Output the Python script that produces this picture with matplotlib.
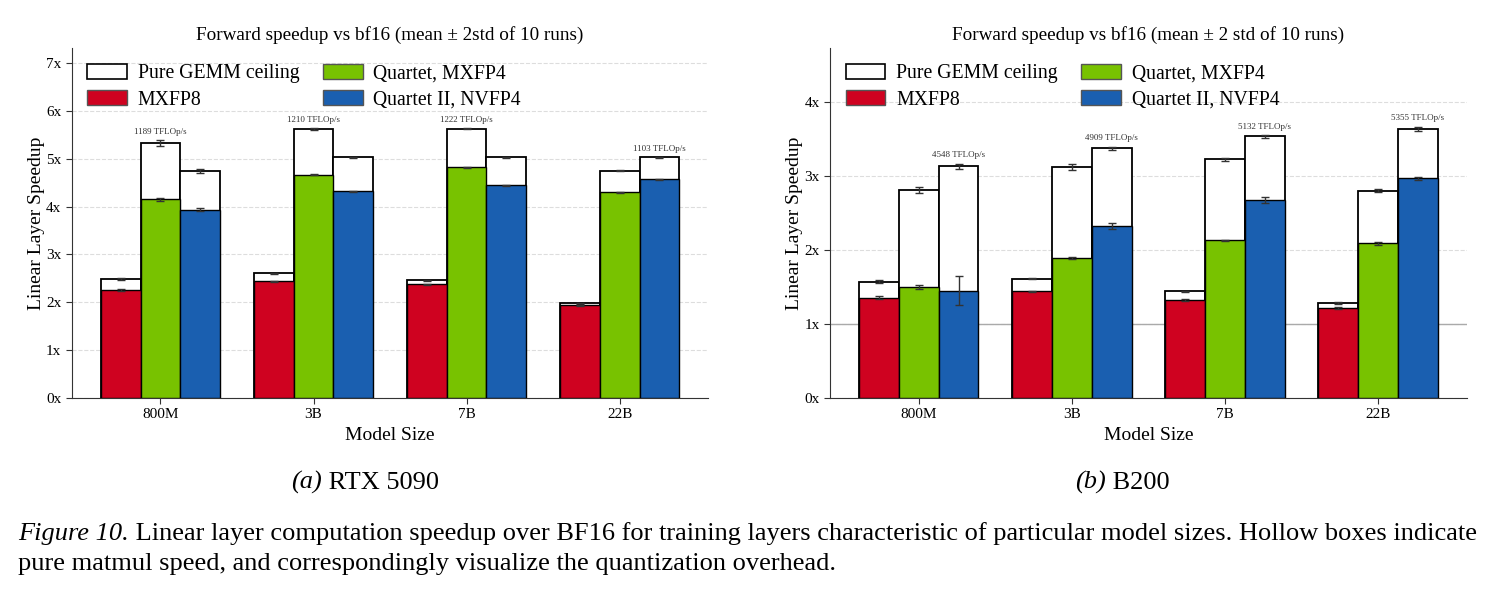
import numpy as np
import matplotlib
matplotlib.use("Agg")
import matplotlib.pyplot as plt

plt.rcParams['font.family'] = ['Liberation Serif', 'DejaVu Serif']

sizes = ['800M', '3B', '7B', '22B']
methods = ['MXFP8', 'Quartet, MXFP4', 'Quartet II, NVFP4']
colors = ['#cf0220', '#78c200', '#1a5fb0']

# RTX 5090: rows = method, cols = model size
rtx_ceil = [[2.49, 2.60, 2.46, 1.98],
            [5.34, 5.62, 5.63, 4.75],
            [4.74, 5.03, 5.03, 5.03]]
rtx_ceil_err = [[0.02, 0.01, 0.01, 0.01],
                [0.06, 0.02, 0.01, 0.01],
                [0.04, 0.01, 0.01, 0.01]]
rtx_act = [[2.26, 2.44, 2.37, 1.93],
           [4.15, 4.67, 4.83, 4.30],
           [3.94, 4.32, 4.45, 4.57]]
rtx_act_err = [[0.02, 0.01, 0.01, 0.01],
               [0.04, 0.01, 0.01, 0.01],
               [0.04, 0.01, 0.01, 0.01]]
rtx_tflops = [1189, 1210, 1222, 1103]

# B200
b200_ceil = [[1.57, 1.61, 1.44, 1.28],
             [2.81, 3.12, 3.23, 2.80],
             [3.13, 3.38, 3.54, 3.64]]
b200_ceil_err = [[0.02, 0.01, 0.01, 0.01],
                 [0.04, 0.04, 0.02, 0.02],
                 [0.04, 0.02, 0.02, 0.03]]
b200_act = [[1.35, 1.44, 1.32, 1.21],
            [1.50, 1.89, 2.13, 2.09],
            [1.45, 2.32, 2.68, 2.97]]
b200_act_err = [[0.02, 0.01, 0.01, 0.01],
                [0.03, 0.02, 0.01, 0.02],
                [0.20, 0.04, 0.04, 0.02]]
b200_tflops = [4548, 4909, 5132, 5355]


def draw(ax, ceil, ceil_err, act, act_err, tflops, title, baseline=False):
    x = np.arange(len(sizes))
    w = 0.26
    ceil = np.array(ceil)
    ekw = dict(ecolor='#333333', elinewidth=1, capsize=3, capthick=1)
    for i in range(len(methods)):
        xs = x + (i - 1) * w
        ax.bar(xs, ceil[i], w, yerr=ceil_err[i], color='white', edgecolor='black',
               linewidth=1.3, zorder=2, error_kw=ekw)
        ax.bar(xs, act[i], w, yerr=act_err[i], color=colors[i], edgecolor='black',
               linewidth=1.0, zorder=3, error_kw=ekw)
    for j in range(len(sizes)):
        k = int(np.argmax(ceil[:, j]))
        ax.annotate(f'{tflops[j]} TFLOp/s', (x[j] + (k - 1) * w, ceil[k, j] + ceil_err[k][j]),
                    xytext=(0, 3), textcoords='offset points', ha='center', va='bottom',
                    fontsize=6.5, color='#333333')
    if baseline:
        ax.axhline(1, color='#aaaaaa', lw=1, zorder=1)
    ymax = ceil.max() * 1.3
    ax.set_ylim(0, ymax)
    ax.set_xlim(-0.58, 3.58)
    yt = np.arange(0, int(ymax) + 1)
    ax.set_yticks(yt)
    ax.set_yticklabels([f'{t}x' for t in yt], fontsize=11)
    ax.set_xticks(x)
    ax.set_xticklabels(sizes, fontsize=11)
    ax.yaxis.grid(True, linestyle='--', color='#dddddd', lw=0.8, zorder=0)
    ax.set_axisbelow(True)
    for s in ['top', 'right']:
        ax.spines[s].set_visible(False)
    for s in ['left', 'bottom']:
        ax.spines[s].set_color('#333333')
    ax.tick_params(colors='#333333', labelcolor='black', length=4)
    ax.set_title(title, fontsize=13.8, pad=6)
    ax.set_ylabel('Linear Layer Speedup', fontsize=14, labelpad=1)
    ax.set_xlabel('Model Size', fontsize=14, labelpad=4)

    handles = [plt.Rectangle((0, 0), 1, 1, facecolor='white', edgecolor='black', lw=1.2)]
    for c in colors:
        handles.append(plt.Rectangle((0, 0), 1, 1, facecolor=c, edgecolor='#555555', lw=1))
    labels = ['Pure GEMM ceiling'] + methods
    ax.legend(handles, labels, ncol=2, loc='upper left', frameon=False, fontsize=14.2,
              handlelength=2.0, handleheight=0.8, handletextpad=0.55,
              columnspacing=1.2, labelspacing=0.35, borderaxespad=0.4)


fig = plt.figure(figsize=(14.91, 5.92), dpi=100)
ax1 = fig.add_axes([0.0481, 0.3285, 0.427, 0.590])
ax2 = fig.add_axes([0.5567, 0.3285, 0.427, 0.590])

draw(ax1, rtx_ceil, rtx_ceil_err, rtx_act, rtx_act_err, rtx_tflops,
     'Forward speedup vs bf16 (mean ± 2std of 10 runs)')
draw(ax2, b200_ceil, b200_ceil_err, b200_act, b200_act_err, b200_tflops,
     'Forward speedup vs bf16 (mean ± 2 std of 10 runs)', baseline=True)

# sub captions
for sx, tag, name in [(291, '(a)', 'RTX 5090'), (1075, '(b)', 'B200')]:
    t = fig.text(sx / 1491, 1 - 482 / 592, tag, fontsize=19, style='italic',
                 va='center', ha='left')
    ax1.annotate(' ' + name, xy=(1, 0), xycoords=t, va='bottom', ha='left',
                 fontsize=19, annotation_clip=False)

t1 = fig.text(18 / 1491, 1 - 534 / 592, 'Figure 10.', fontsize=19, style='italic',
              va='center', ha='left')
ax1.annotate(' Linear layer computation speedup over BF16 for training layers characteristic '
             'of particular model sizes. Hollow boxes indicate',
             xy=(1, 0), xycoords=t1, va='bottom', ha='left', fontsize=19,
             annotation_clip=False)
fig.text(18 / 1491, 1 - 564 / 592,
         'pure matmul speed, and correspondingly visualize the quantization overhead.',
         fontsize=19, va='center', ha='left')

fig.savefig('out.png', dpi=100)
